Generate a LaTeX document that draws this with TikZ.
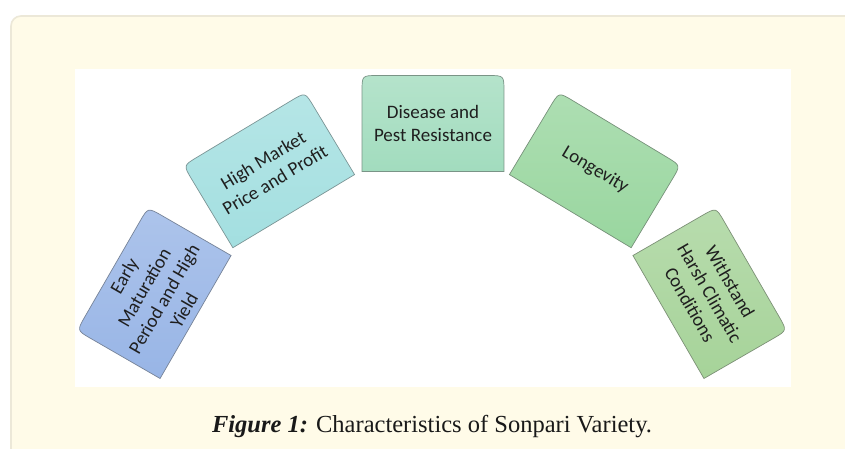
\documentclass[tikz,border=0pt]{standalone}
\usepackage{fontspec}
\setmainfont{Liberation Serif}
\newfontfamily\boxfont{Carlito}
\definecolor{cream}{HTML}{FFFBE8}
\definecolor{creamline}{HTML}{ECE8D8}
\definecolor{cBlue}{HTML}{98B5E6}
\definecolor{cCyan}{HTML}{A3DFE0}
\definecolor{cMint}{HTML}{A2DCBE}
\definecolor{cGreen}{HTML}{99D69F}
\definecolor{cOlive}{HTML}{A6D399}
\tikzset{
  boxtext/.style={font=\boxfont\fontsize{19}{23}\selectfont, align=center, text=black!88, inner sep=0pt},
  boxshape/.style={line width=0.7pt, draw=#1!55!black!80, top color=#1!80!white, bottom color=#1},
  panel/.style={fill=cream, draw=creamline, line width=1.6pt, rounded corners=10pt},
}
\newcommand\card[5]{%
  \begin{scope}[shift={#1}, rotate=#2, transform shape]
    \path[boxshape=#3] (-71,48) -- (-71,-32) .. controls (-71,-48) .. (-55,-48)
      -- (55,-48) .. controls (71,-48) .. (71,-32) -- (71,48) -- cycle;
    \node[boxtext] (#4) at (0,0) {#5};
  \end{scope}}
\begin{document}
\begin{tikzpicture}[x=1pt, y=-1pt]
  \useasboundingbox (0,0) rectangle (845,449);
  \fill[white] (0,0) rectangle (845,449);
  \begin{scope}
    \clip (0,0) rectangle (845,449);
    \path[panel] (11,16) rectangle (900,500);
  \end{scope}
  \fill[white] (75,69) rectangle (791,387);
  \card{(154,293)}{60}{cBlue}{early}{Early\\Maturation\\Period and High\\Yield}
  \card{(269,170)}{31}{cCyan}{market}{High Market\\Price and Profit}
  \card{(433,123.5)}{0}{cMint}{disease}{Disease and\\Pest Resistance}
  \card{(595,170)}{-31}{cGreen}{longevity}{Longevity}
  \card{(710,293)}{-60}{cOlive}{withstand}{Withstand\\Harsh Climatic\\Conditions}
  \node[anchor=base, text=black!90, inner sep=0pt] (caption) at (432,432)
    {\fontsize{24.5}{28}\selectfont\textbf{\textit{Figure 1:}} Characteristics of Sonpari Variety.};
\end{tikzpicture}
\end{document}
